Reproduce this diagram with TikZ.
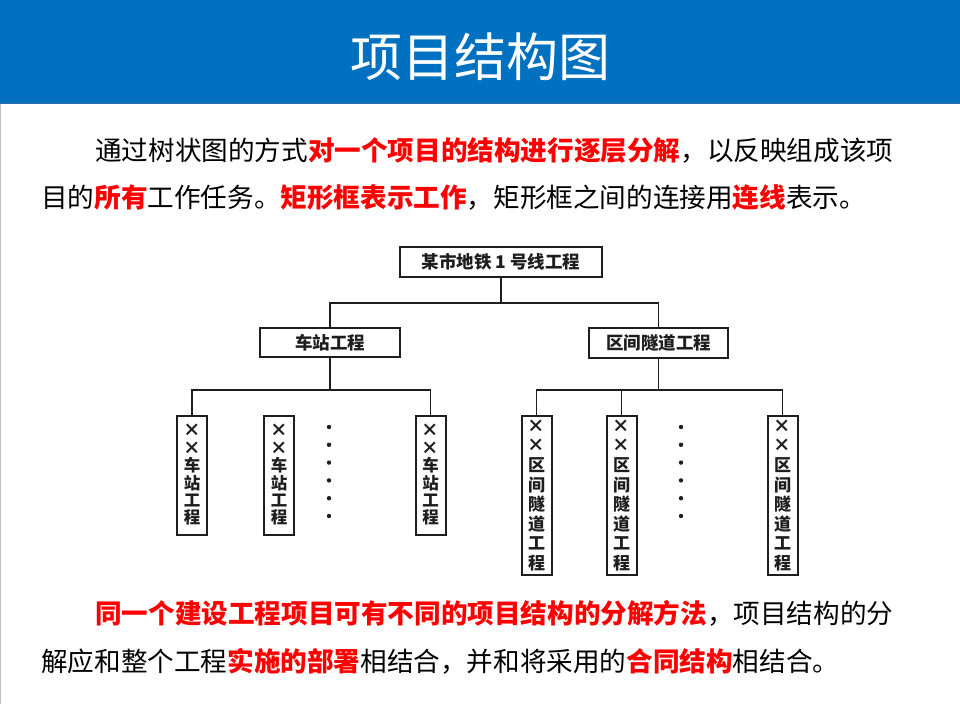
\documentclass[tikz,border=0pt]{standalone}
\usepackage{fontspec}
\setmainfont{Noto Sans CJK SC}
\definecolor{hdrblue}{HTML}{0070C0}
\definecolor{hdredge}{HTML}{2F6EA8}
\definecolor{txtred}{HTML}{FF0000}
\definecolor{ink}{HTML}{1E1E1E}
\newcommand{\xx}{{\fontsize{17.5}{17}\selectfont ×}}
\begin{document}
\begin{tikzpicture}[x=1pt,y=-1pt,
  line/.style={draw=ink,line width=1.5pt},
  tbox/.style={draw=ink,line width=2pt,inner sep=0pt,font=\fontsize{17.5}{17}\selectfont\bfseries,text=ink},
  leafS/.style={tbox,minimum width=30pt,minimum height=119pt,align=center,font=\fontsize{16.5}{17.4}\selectfont\bfseries},
  leafT/.style={tbox,minimum width=30pt,minimum height=159pt,align=center,font=\fontsize{17}{19.6}\selectfont\bfseries},
  body/.style={anchor=west,inner sep=0pt,font=\fontsize{26.6}{27}\selectfont,text=black},
  dotm/.style={circle,fill=ink,inner sep=0pt,minimum size=4.4pt}]
\useasboundingbox (0,0) rectangle (960,704);
\fill[white] (0,0) rectangle (960,704);
% header
\fill[hdrblue] (0,0) rectangle (960,104);
\draw[hdredge,line width=1pt] (0,103.5) -- (960,103.5);
\draw[gray!50,line width=1pt] (0.5,104) -- (0.5,704);
\node[text=white,font=\fontsize{52}{52}\selectfont,inner sep=0pt] (title) at (480,57) {项目结构图};
% body text
\node[body] (l1) at (95,150) {通过树状图的方式\textcolor{txtred}{\bfseries 对一个项目的结构进行逐层分解}，以反映组成该项};
\node[body] (l2) at (41,197) {目的\textcolor{txtred}{\bfseries 所有}工作任务。\textcolor{txtred}{\bfseries 矩形框表示工作}，矩形框之间的连接用\textcolor{txtred}{\bfseries 连线}表示。};
\node[body] (l3) at (95,613) {\textcolor{txtred}{\bfseries 同一个建设工程项目可有不同的项目结构的分解方法}，项目结构的分};
\node[body] (l4) at (41,661) {解应和整个工程\textcolor{txtred}{\bfseries 实施的部署}相结合，并和将采用的\textcolor{txtred}{\bfseries 合同结构}相结合。};
% tree
\node[tbox,minimum width=202pt,minimum height=30pt] (root) at (501,262) {某市地铁 1 号线工程};
\node[tbox,minimum width=140pt,minimum height=29pt] (st) at (330,342.5) {车站工程};
\node[tbox,minimum width=139pt,minimum height=30pt] (tu) at (658.5,343) {区间隧道工程};
\node[leafS] (s1) at (192,475) {\xx\\\xx\\车\\站\\工\\程};
\node[leafS] (s2) at (279,475) {\xx\\\xx\\车\\站\\工\\程};
\node[leafS] (s3) at (430.5,475) {\xx\\\xx\\车\\站\\工\\程};
\node[leafT] (t1) at (536.5,495.5) {\xx\\\xx\\区\\间\\隧\\道\\工\\程};
\node[leafT] (t2) at (621.5,495.5) {\xx\\\xx\\区\\间\\隧\\道\\工\\程};
\node[leafT] (t3) at (782.5,495.5) {\xx\\\xx\\区\\间\\隧\\道\\工\\程};
\coordinate (j0) at (501,303);
\coordinate (js) at (330,390);
\coordinate (jt) at (658.5,390);
\draw[line] (root.south) -- (j0);
\draw[line] (st.north) |- (j0) -| (tu.north);
\draw[line] (st.south) -- (js);
\draw[line] (s1.north) |- (js) -| (s3.north);
\draw[line] (tu.south) -- (jt);
\draw[line] (t1.north) |- (jt) -| (t3.north);
\draw[line] (t2.north) -- (t2.north |- jt);
% dots
\foreach \i in {0,...,5} {
  \node[dotm] (ds\i) at (329,427+17.8*\i) {};
  \node[dotm] (dt\i) at (681,427+17.8*\i) {};
}
\end{tikzpicture}
\end{document}
